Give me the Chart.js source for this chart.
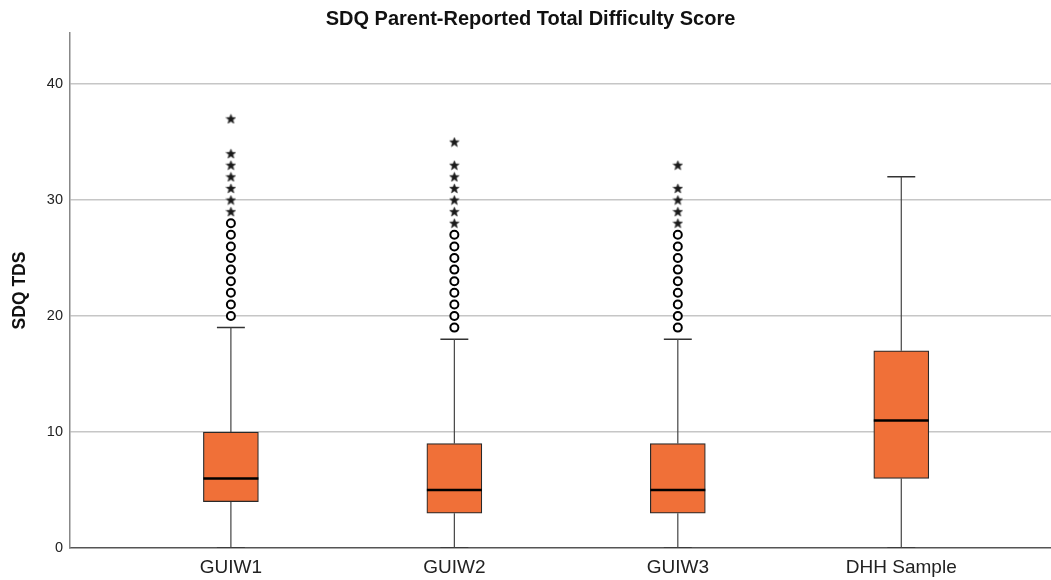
<!DOCTYPE html>
<html>
<head>
<meta charset="utf-8">
<script src="https://cdn.jsdelivr.net/npm/chart.js@4/dist/chart.umd.min.js"></script>
<style>
  html, body { margin: 0; padding: 0; background: #fff; }
  #wrap { width: 1051px; height: 580px; }
</style>
</head>
<body>
<div id="wrap"><canvas id="c" width="1051" height="580"></canvas></div>
<script>
// Box-plot summary per group (SDQ total difficulty score)
const categories   = ['GUIW1', 'GUIW2', 'GUIW3', 'DHH Sample'];
const whiskerLow   = [0, 0, 0, 0];
const quartile1    = [4, 3, 3, 6];
const medians      = [6, 5, 5, 11];
const quartile3    = [10, 9, 9, 17];
const whiskerHigh  = [19, 18, 18, 32];
// Outliers (circles) and extreme values (stars)
const outliers = [
  [20, 21, 22, 23, 24, 25, 26, 27, 28],
  [19, 20, 21, 22, 23, 24, 25, 26, 27],
  [19, 20, 21, 22, 23, 24, 25, 26, 27],
  []
];
const extremes = [
  [29, 30, 31, 32, 33, 34, 37],
  [28, 29, 30, 31, 32, 33, 35],
  [28, 29, 30, 31, 33],
  []
];
const yTickValues = [0, 10, 20, 30, 40];

const CAP_HALF = 0.0625;   // whisker cap half-width in category units
const BOX_HALF = 0.123;    // median line half-width in category units

// small filled star used as the extreme-value marker
function makeStar() {
  const c = document.createElement('canvas');
  c.width = 11; c.height = 11;
  const g = c.getContext('2d');
  g.fillStyle = '#1a1a1a';
  g.strokeStyle = '#333';
  g.lineWidth = 0.6;
  g.beginPath();
  for (let k = 0; k < 10; k++) {
    const r = k % 2 === 0 ? 5 : 2.2;
    const a = -Math.PI / 2 + k * Math.PI / 5;
    const px = 5.5 + r * Math.cos(a), py = 5.9 + r * Math.sin(a);
    if (k === 0) g.moveTo(px, py); else g.lineTo(px, py);
  }
  g.closePath();
  g.fill();
  g.stroke();
  return c;
}

const boxData = categories.map((_, i) => ({ x: i, y: [quartile1[i], quartile3[i]] }));

const whiskerData = [];
const capData = [];
const medianData = [];
categories.forEach((_, i) => {
  whiskerData.push({ x: i, y: whiskerLow[i] }, { x: i, y: quartile1[i] }, { x: i, y: null },
                   { x: i, y: quartile3[i] }, { x: i, y: whiskerHigh[i] }, { x: i, y: null });
  capData.push({ x: i - CAP_HALF, y: whiskerLow[i] }, { x: i + CAP_HALF, y: whiskerLow[i] }, { x: i, y: null },
               { x: i - CAP_HALF, y: whiskerHigh[i] }, { x: i + CAP_HALF, y: whiskerHigh[i] }, { x: i, y: null });
  medianData.push({ x: i - BOX_HALF, y: medians[i] }, { x: i + BOX_HALF, y: medians[i] }, { x: i, y: null });
});

const outlierData = [];
const extremeData = [];
categories.forEach((_, i) => {
  outliers[i].forEach(v => outlierData.push({ x: i, y: v }));
  extremes[i].forEach(v => extremeData.push({ x: i, y: v }));
});

const FONT = "'Liberation Sans', Arial, sans-serif";

new Chart(document.getElementById('c'), {
  type: 'bar',
  data: {
    datasets: [
      { type: 'line', data: medianData, borderColor: '#000', borderWidth: 2.5,
        pointRadius: 0, spanGaps: false, order: 0 },
      { type: 'scatter', data: outlierData, pointStyle: 'circle', pointRadius: 4,
        borderColor: '#000', borderWidth: 2, backgroundColor: '#fff', order: 1 },
      { type: 'scatter', data: extremeData, pointStyle: makeStar(), pointRadius: 5, order: 1 },
      { type: 'bar', data: boxData, backgroundColor: '#F07038', borderColor: '#2a2a2a',
        borderWidth: 1.2, borderSkipped: false, barThickness: 55, order: 2 },
      { type: 'line', data: whiskerData, borderColor: '#444', borderWidth: 1.2,
        pointRadius: 0, spanGaps: false, order: 3 },
      { type: 'line', data: capData, borderColor: '#333', borderWidth: 1.5,
        pointRadius: 0, spanGaps: false, order: 3 }
    ]
  },
  options: {
    responsive: false,
    animation: false,
    events: [],
    layout: { autoPadding: false, padding: { left: 10, right: 0, top: 0, bottom: 0 } },
    plugins: {
      legend: { display: false },
      tooltip: { enabled: false },
      title: {
        display: true,
        text: 'SDQ Parent-Reported Total Difficulty Score',
        color: '#111',
        font: { family: FONT, size: 20, weight: 'bold' },
        padding: { top: 7, bottom: 2 }
      }
    },
    scales: {
      x: {
        type: 'linear',
        min: -0.72,
        max: 3.67,
        offset: false,
        afterBuildTicks: s => { s.ticks = categories.map((_, i) => ({ value: i })); },
        afterFit: s => { s.height = 32; s.paddingLeft = 0; s.paddingRight = 0; },
        ticks: {
          callback: v => categories[v],
          color: '#222',
          font: { family: FONT, size: 19 },
          padding: 8,
          maxRotation: 0
        },
        grid: { color: 'rgba(0,0,0,0)', drawTicks: false },
        border: { display: true, color: '#555', width: 1.5 }
      },
      y: {
        min: 0,
        max: 44.4,
        afterBuildTicks: s => { s.ticks = yTickValues.map(v => ({ value: v })); },
        afterFit: s => { s.width = 60; s.paddingTop = 0; s.paddingBottom = 0; },
        ticks: {
          color: '#222',
          font: { family: FONT, size: 14.5 },
          padding: 7
        },
        grid: {
          color: ctx => ctx.tick && ctx.tick.value === 0 ? 'rgba(0,0,0,0)' : '#c6c6c6',
          lineWidth: 1.5,
          drawTicks: false
        },
        border: { display: true, color: '#888', width: 1.5 },
        title: {
          display: true,
          text: 'SDQ TDS',
          color: '#111',
          font: { family: FONT, size: 17.5, weight: 'bold' },
          padding: { top: 0, bottom: 0 }
        }
      }
    }
  }
});
</script>
</body>
</html>
